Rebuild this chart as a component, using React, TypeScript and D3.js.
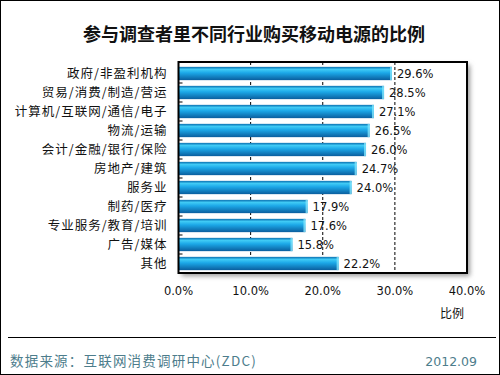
import * as d3 from "d3";
import { useEffect, useRef } from "react";

const categories = [
  "政府/非盈利机构",
  "贸易/消费/制造/营运",
  "计算机/互联网/通信/电子",
  "物流/运输",
  "会计/金融/银行/保险",
  "房地产/建筑",
  "服务业",
  "制药/医疗",
  "专业服务/教育/培训",
  "广告/媒体",
  "其他",
];
const values = [29.6, 28.5, 27.1, 26.5, 26.0, 24.7, 24.0, 17.9, 17.6, 15.8, 22.2];
const xTicks = [0, 10, 20, 30, 40];

const FONT = "'Noto Sans CJK SC', 'Noto Sans', sans-serif";

const App = () => {
  const ref = useRef<SVGSVGElement | null>(null);

  useEffect(() => {
    if (!ref.current) return;
    const svg = d3.select(ref.current);
    svg.selectAll("*").remove();

    const W = 500;
    const H = 375;
    const plot = { left: 178.5, right: 467, top: 62, bottom: 273 };

    svg.append("rect").attr("width", W).attr("height", H).attr("fill", "#fff");
    svg
      .append("rect")
      .attr("x", 0.5)
      .attr("y", 0.5)
      .attr("width", W - 1)
      .attr("height", H - 1)
      .attr("fill", "none")
      .attr("stroke", "#000");

    const defs = svg.append("defs");
    const grad = defs
      .append("linearGradient")
      .attr("id", "barGrad")
      .attr("x1", 0)
      .attr("y1", 0)
      .attr("x2", 0)
      .attr("y2", 1);
    grad.append("stop").attr("offset", "0%").attr("stop-color", "#0a6fb0");
    grad.append("stop").attr("offset", "20%").attr("stop-color", "#3fcaf5");
    grad.append("stop").attr("offset", "45%").attr("stop-color", "#1ca8e8");
    grad.append("stop").attr("offset", "100%").attr("stop-color", "#0a5e9e");

    const blur = defs.append("filter").attr("id", "shadow");
    blur.append("feGaussianBlur").attr("stdDeviation", 2.5);

    svg
      .append("text")
      .attr("x", 254)
      .attr("y", 41)
      .attr("text-anchor", "middle")
      .attr("font-family", FONT)
      .attr("font-size", 18)
      .attr("font-weight", "bold")
      .attr("fill", "#111")
      .text("参与调查者里不同行业购买移动电源的比例");

    const x = d3.scaleLinear().domain([0, 40]).range([plot.left, plot.right]);
    const y = d3
      .scaleBand<string>()
      .domain(categories)
      .range([plot.top + 2, plot.bottom])
      .paddingInner(0.3)
      .paddingOuter(0.15);

    // plot shadow
    svg
      .append("rect")
      .attr("x", plot.left + 3)
      .attr("y", plot.top + 3)
      .attr("width", plot.right - plot.left)
      .attr("height", plot.bottom - plot.top)
      .attr("fill", "#999")
      .attr("filter", "url(#shadow)");
    svg
      .append("rect")
      .attr("x", plot.left)
      .attr("y", plot.top)
      .attr("width", plot.right - plot.left)
      .attr("height", plot.bottom - plot.top)
      .attr("fill", "#fff");

    // dashed grid
    svg
      .append("g")
      .selectAll("line")
      .data(xTicks.slice(1, -1))
      .join("line")
      .attr("x1", (d) => x(d))
      .attr("x2", (d) => x(d))
      .attr("y1", plot.top)
      .attr("y2", plot.bottom)
      .attr("stroke", "#000")
      .attr("stroke-width", 1)
      .attr("stroke-dasharray", "3,2");

    const bars = svg.append("g");
    categories.forEach((c, i) => {
      const y0 = y(c)!;
      const bh = y.bandwidth();
      bars
        .append("rect")
        .attr("x", x(0))
        .attr("y", y0)
        .attr("width", x(values[i]) - x(0))
        .attr("height", bh)
        .attr("fill", "url(#barGrad)");
      bars
        .append("rect")
        .attr("x", x(values[i]) - 2)
        .attr("y", y0)
        .attr("width", 2)
        .attr("height", bh)
        .attr("fill", "#7fe3fb")
        .attr("opacity", 0.8);
      bars
        .append("text")
        .attr("x", x(values[i]) + 5)
        .attr("y", y0 + bh / 2)
        .attr("dy", "0.35em")
        .attr("font-family", "'DejaVu Sans', sans-serif")
        .attr("font-size", 11.5)
        .attr("fill", "#111")
        .text(values[i].toFixed(1) + "%");
    });

    // y ticks at band boundaries
    const step = y.step();
    svg
      .append("g")
      .selectAll("line")
      .data(categories.slice(0, -1))
      .join("line")
      .attr("x1", plot.left)
      .attr("x2", plot.left + 4)
      .attr("y1", (c) => y(c)! + y.bandwidth() + (step - y.bandwidth()) / 2)
      .attr("y2", (c) => y(c)! + y.bandwidth() + (step - y.bandwidth()) / 2)
      .attr("stroke", "#000");

    // frame
    svg
      .append("rect")
      .attr("x", plot.left)
      .attr("y", plot.top)
      .attr("width", plot.right - plot.left)
      .attr("height", plot.bottom - plot.top)
      .attr("fill", "none")
      .attr("stroke", "#000")
      .attr("stroke-width", 2);

    // category labels
    svg
      .append("g")
      .selectAll("text")
      .data(categories)
      .join("text")
      .attr("x", plot.left - 11)
      .attr("y", (c) => y(c)! + y.bandwidth() / 2)
      .attr("dy", "0.35em")
      .attr("text-anchor", "end")
      .attr("font-family", FONT)
      .attr("font-size", 12.5)
      .attr("letter-spacing", 1)
      .attr("fill", "#111")
      .text((c) => c);

    // x tick labels
    svg
      .append("g")
      .selectAll("text")
      .data(xTicks)
      .join("text")
      .attr("x", (d) => x(d))
      .attr("y", plot.bottom + 22)
      .attr("text-anchor", "middle")
      .attr("font-family", "'DejaVu Sans', sans-serif")
      .attr("font-size", 11.5)
      .attr("fill", "#111")
      .text((d) => d.toFixed(1) + "%");

    svg
      .append("text")
      .attr("x", 452)
      .attr("y", 318)
      .attr("text-anchor", "middle")
      .attr("font-family", FONT)
      .attr("font-size", 12)
      .attr("fill", "#111")
      .text("比例");

    // footer
    svg
      .append("line")
      .attr("x1", 8)
      .attr("x2", 496)
      .attr("y1", 337.5)
      .attr("y2", 337.5)
      .attr("stroke", "#000");
    svg
      .append("text")
      .attr("x", 10)
      .attr("y", 366)
      .attr("font-family", FONT)
      .attr("font-size", 13.5)
      .attr("letter-spacing", 1.2)
      .attr("fill", "#4d7d8c")
      .text("数据来源：互联网消费调研中心(ZDC)");
    svg
      .append("text")
      .attr("x", 477)
      .attr("y", 366)
      .attr("text-anchor", "end")
      .attr("font-family", "'DejaVu Sans', sans-serif")
      .attr("font-size", 12.5)
      .attr("fill", "#4d7d8c")
      .text("2012.09");
  }, []);

  return (
    <svg
      ref={ref}
      width={500}
      height={375}
      style={{ display: "block", position: "absolute", left: 0, top: 0 }}
    />
  );
};

export default App;
